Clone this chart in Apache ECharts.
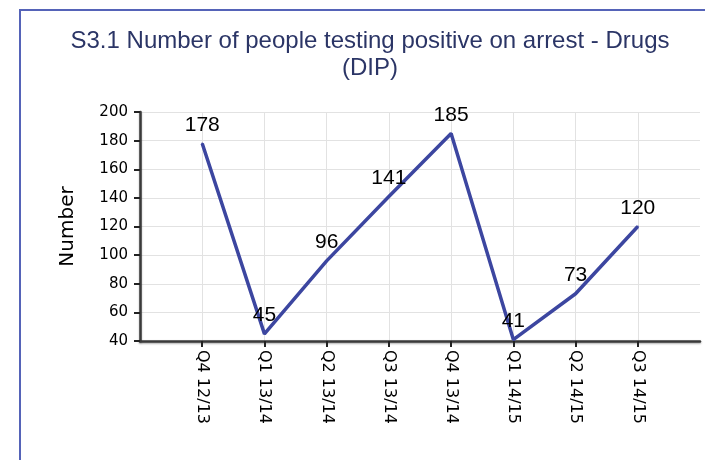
<!DOCTYPE html>
<html>
<head>
<meta charset="utf-8">
<script src="https://cdn.jsdelivr.net/npm/echarts@6/dist/echarts.min.js"></script>
<style>
  html, body { margin: 0; padding: 0; background: #fff; }
  #chart { width: 705px; height: 460px; }
</style>
</head>
<body>
<div id="chart"></div>
<script>
// Quarters shown on the x axis
const quarters = ['Q4 12/13', 'Q1 13/14', 'Q2 13/14', 'Q3 13/14', 'Q4 13/14', 'Q1 14/15', 'Q2 14/15', 'Q3 14/15'];
// People testing positive on arrest
const positives = [178, 45, 96, 141, 185, 41, 73, 120];
const titleLines = ['S3.1 Number of people testing positive on arrest - Drugs', '(DIP)'];

// empty slot at each end so the line sits between axis start and plot edge
const xData = [''].concat(quarters, ['']);
const yData = [null].concat(positives, [null]);
const lastIdx = xData.length - 1;
const inner = (i) => i > 0 && i < lastIdx;

const myChart = echarts.init(document.getElementById('chart'), null, { renderer: 'canvas' });

const axisLine = {
	show: true,
	lineStyle: { color: '#3a3a3a', width: 2.5, shadowColor: 'rgba(0,0,0,0.35)', shadowBlur: 2, shadowOffsetY: 1 },
};

const option = {
	animation: false,
	backgroundColor: '#fff',
	graphic: [
		{
			type: 'rect',
			shape: { x: 20, y: 10, width: 720, height: 480 },
			style: { fill: 'none', stroke: '#5563b8', lineWidth: 2 },
			silent: true,
		},
		{
			type: 'text',
			x: 370,
			y: 41,
			style: {
				text: titleLines[0],
				font: '24px "Liberation Sans"',
				fill: '#2b3566',
				align: 'center',
				verticalAlign: 'middle',
			},
		},
		{
			type: 'text',
			x: 370,
			y: 68,
			style: {
				text: titleLines[1],
				font: '24px "Liberation Sans"',
				fill: '#2b3566',
				align: 'center',
				verticalAlign: 'middle',
			},
		},
	],
	grid: { left: 140, right: 5, top: 112, bottom: 119 },
	xAxis: {
		type: 'category',
		data: xData,
		boundaryGap: false,
		axisLine: axisLine,
		axisTick: { show: true, length: 6, interval: inner, lineStyle: { color: '#222', width: 2 } },
		axisLabel: {
			rotate: -90,
			margin: 9,
			interval: 0,
			fontFamily: 'DejaVu Sans',
			fontSize: 16,
			color: '#000',
		},
		splitLine: { show: true, interval: inner, lineStyle: { color: '#e2e2e2', width: 1 } },
	},
	yAxis: {
		type: 'value',
		min: 40,
		max: 200,
		interval: 20,
		name: 'Number',
		nameLocation: 'middle',
		nameRotate: 90,
		nameGap: 62,
		nameTextStyle: { fontFamily: 'DejaVu Sans', fontSize: 20, color: '#000' },
		axisLine: axisLine,
		axisTick: { show: true, length: 6, lineStyle: { color: '#222', width: 2 } },
		axisLabel: { margin: 12, fontFamily: 'DejaVu Sans', fontSize: 15, color: '#000' },
		splitLine: { show: true, lineStyle: { color: '#e2e2e2', width: 1 } },
	},
	series: [
		{
			type: 'line',
			data: yData,
			showSymbol: true,
			showAllSymbol: true,
			symbol: 'circle',
			symbolSize: 2,
			connectNulls: false,
			lineStyle: { color: '#3c46a0', width: 3.5 },
			itemStyle: { color: '#3c46a0' },
			label: {
				show: true,
				position: 'top',
				distance: 7,
				fontFamily: 'Liberation Sans',
				fontSize: 21,
				color: '#000',
			},
		},
	],
};

myChart.setOption(option);
</script>
</body>
</html>
